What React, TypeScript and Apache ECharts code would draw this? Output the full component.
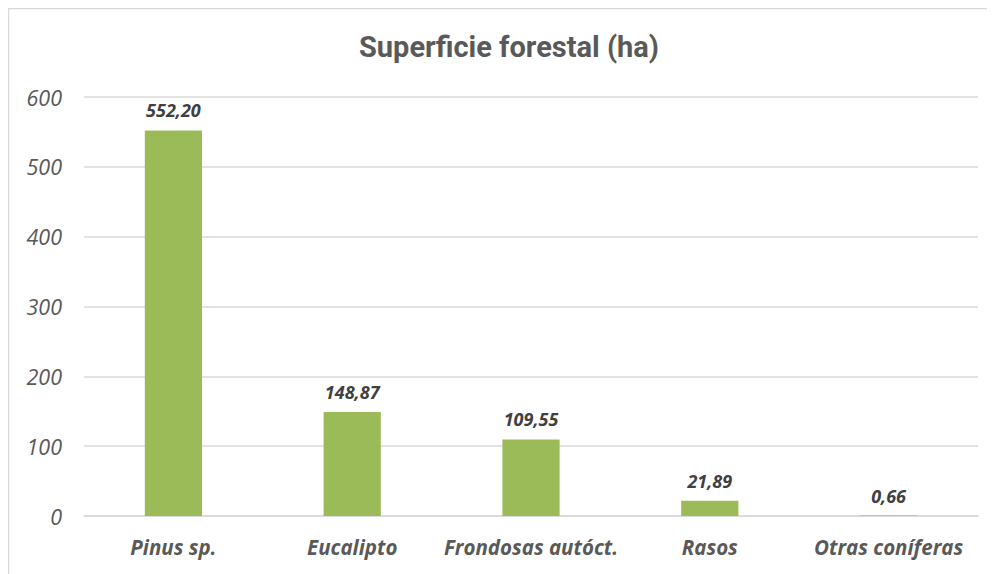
import React, { useEffect, useRef } from "react";
import * as echarts from "echarts";

const categories = ["Pinus sp.", "Eucalipto", "Frondosas autóct.", "Rasos", "Otras coníferas"];
const values = [552.2, 148.87, 109.55, 21.89, 0.66];
const yTicks = { min: 0, max: 600, interval: 100 };
const title = "Superficie forestal (ha)";

export default function App() {
  const ref = useRef<HTMLDivElement>(null);
  useEffect(() => {
    const el = ref.current!;
    const chart = echarts.init(el, undefined, { renderer: "svg" });
    chart.setOption({
      animation: false,
      backgroundColor: "#ffffff",
      title: {
        text: title,
        left: 496,
        textAlign: "center",
        top: 19,
        textStyle: {
          fontFamily: "Roboto",
          fontWeight: "bold",
          fontSize: 29,
          color: "#595959",
        },
      },
      graphic: [
        {
          type: "rect",
          shape: { x: 0.5, y: 0.5, width: 3000, height: 3000 },
          style: { fill: "none", stroke: "#d9d9d9", lineWidth: 1.5 },
          silent: true,
        },
      ],
      grid: { left: 76, right: 17, top: 89, bottom: 58, containLabel: false },
      xAxis: {
        type: "category",
        data: categories,
        axisLine: { show: true, lineStyle: { color: "#d9d9d9", width: 1.5 } },
        axisTick: { show: false },
        axisLabel: {
          interval: 0,
          margin: 21,
          fontFamily: "Open Sans",
          fontStyle: "italic",
          fontWeight: "bold",
          fontSize: 20.5,
          color: "#595959",
        },
      },
      yAxis: {
        type: "value",
        min: yTicks.min,
        max: yTicks.max,
        interval: yTicks.interval,
        axisLine: { show: false },
        axisTick: { show: false },
        splitLine: { lineStyle: { color: "#d9d9d9", width: 1.5 } },
        axisLabel: {
          margin: 22,
          fontFamily: "Open Sans",
          fontStyle: "italic",
          fontSize: 21.5,
          color: "#595959",
        },
      },
      series: [
        {
          type: "bar",
          data: values,
          barWidth: "32%",
          itemStyle: { color: "#9bbb59" },
          label: {
            show: true,
            position: "top",
            distance: 11,
            fontFamily: "Open Sans",
            fontStyle: "italic",
            fontWeight: "bold",
            fontSize: 18,
            color: "#404040",
            formatter: (p: any) => p.value.toFixed(2).replace(".", ","),
          },
        },
      ],
    });
    return () => chart.dispose();
  }, []);
  return <div ref={ref} style={{ width: 987, height: 566 }} />;
}
